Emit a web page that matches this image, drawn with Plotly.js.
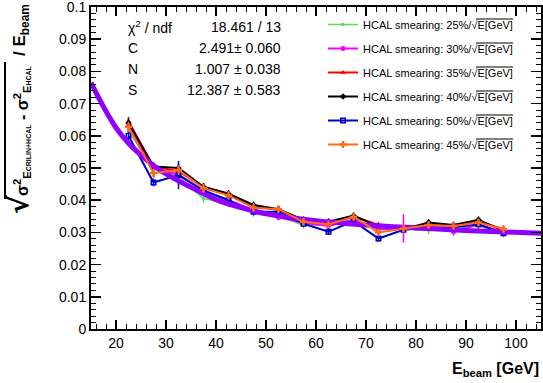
<!DOCTYPE html>
<html>
<head>
<meta charset="utf-8">
<script src="https://cdn.plot.ly/plotly-3.0.1.min.js"></script>
<style>html,body{margin:0;padding:0;background:#fff}#chart{width:543px;height:383px}</style>
</head>
<body>
<div id="chart"></div>
<script>
// ---- data ----
var energies = [22.5, 27.5, 32.5, 37.5, 42.5, 47.5, 52.5, 57.5, 62.5, 67.5, 72.5, 77.5, 82.5, 87.5, 92.5, 97.5];

var seriesNames = [
  "HCAL smearing: 25%/√E[GeV]",
  "HCAL smearing: 30%/√E[GeV]",
  "HCAL smearing: 35%/√E[GeV]",
  "HCAL smearing: 40%/√E[GeV]",
  "HCAL smearing: 50%/√E[GeV]",
  "HCAL smearing: 45%/√E[GeV]"
];

var res25 = [0.0615, 0.0500, 0.0475, 0.0405, 0.0390, 0.0360, 0.0350, 0.0322, 0.0323, 0.0340, 0.0310, 0.0310, 0.0307, 0.0310, 0.0320, 0.0300];
var err25 = [0.0012, 0.0012, 0.0015, 0.0013, 0.0012, 0.0011, 0.0011, 0.0010, 0.0010, 0.0010, 0.0010, 0.0010, 0.0012, 0.0010, 0.0010, 0.0010];

var res30 = [0.0630, 0.0500, 0.0480, 0.0430, 0.0400, 0.0370, 0.0347, 0.0330, 0.0320, 0.0340, 0.0310, 0.0312, 0.0318, 0.0302, 0.0325, 0.0300];
var err30 = [0.0013, 0.0012, 0.0013, 0.0012, 0.0011, 0.0011, 0.0010, 0.0010, 0.0010, 0.0010, 0.0010, 0.0044, 0.0010, 0.0012, 0.0010, 0.0010];

var res35 = [0.0645, 0.0505, 0.0490, 0.0440, 0.0420, 0.0380, 0.0370, 0.0335, 0.0330, 0.0350, 0.0323, 0.0312, 0.0325, 0.0320, 0.0335, 0.0310];
var err35 = [0.0014, 0.0012, 0.0013, 0.0012, 0.0011, 0.0011, 0.0010, 0.0010, 0.0010, 0.0010, 0.0010, 0.0010, 0.0010, 0.0010, 0.0010, 0.0010];

var res40 = [0.0640, 0.0505, 0.0500, 0.0442, 0.0420, 0.0385, 0.0372, 0.0339, 0.0333, 0.0352, 0.0318, 0.0310, 0.0331, 0.0323, 0.0339, 0.0304];
var err40 = [0.0014, 0.0012, 0.0013, 0.0012, 0.0011, 0.0011, 0.0010, 0.0010, 0.0010, 0.0010, 0.0010, 0.0010, 0.0010, 0.0010, 0.0010, 0.0010];

var res50 = [0.0600, 0.0455, 0.0478, 0.0430, 0.0400, 0.0364, 0.0364, 0.0327, 0.0302, 0.0335, 0.0281, 0.0308, 0.0315, 0.0316, 0.0325, 0.0297];
var err50 = [0.0013, 0.0012, 0.0044, 0.0012, 0.0011, 0.0011, 0.0010, 0.0010, 0.0010, 0.0010, 0.0010, 0.0010, 0.0010, 0.0010, 0.0010, 0.0010];

var res45 = [0.0628, 0.0484, 0.0494, 0.0437, 0.0415, 0.0377, 0.0372, 0.0333, 0.0325, 0.0348, 0.0300, 0.0312, 0.0323, 0.0320, 0.0331, 0.0310];
var err45 = [0.0016, 0.0015, 0.0015, 0.0014, 0.0013, 0.0013, 0.0012, 0.0012, 0.0012, 0.0012, 0.0012, 0.0012, 0.0012, 0.0012, 0.0012, 0.0012];

// fit curve
var fitE   = [15, 17.5, 20, 22.5, 25, 27.5, 30, 35, 40, 45, 50, 60, 70, 80, 90, 105];
var fitVal = [0.0765, 0.0690, 0.0625, 0.0577, 0.0540, 0.0508, 0.0482, 0.0440, 0.0402, 0.0377, 0.0358, 0.0336, 0.0323, 0.0314, 0.0306, 0.0297];

var yTickVals = [0, 0.01, 0.02, 0.03, 0.04, 0.05, 0.06, 0.07, 0.08, 0.09, 0.1];
var yTickText = ["0", "0.01", "0.02", "0.03", "0.04", "0.05", "0.06", "0.07", "0.08", "0.09", "0.1"];

var statLabels = ["χ<sup>2</sup> / ndf", "C", "N", "S"];
var statValues = ["18.461 / 13", "2.491± 0.060", "1.007 ± 0.038", "12.387 ± 0.583"];

var xTitle = "<b>E<sub>beam</sub> [GeV]</b>";
var yTitleRoot = "<b>√</b>";
var yTitleBody = "<b>σ<sup>2</sup><sub>E<span style='font-size:7px'>CRILIN+HCAL</span></sub> - σ<sup>2</sup><sub>E<span style='font-size:7px'>HCAL</span></sub></b>";
var yTitleTail = "<b>/ E<sub>beam</sub></b>";

// ---- styles ----
var styles = [
  {c: "#5cd65c", sym: "circle", size: 3.5, w: 1.5},
  {c: "#ff00ff", sym: "circle", size: 5, w: 2},
  {c: "#ff0000", sym: "triangle-up", size: 5, w: 2},
  {c: "#000000", sym: "diamond", size: 5, w: 2},
  {c: "#0000cc", sym: "square-open", size: 4.5, w: 2},
  {c: "#ff6a1a", sym: "cross", size: 6, w: 2}
];
var allRes = [res25, res30, res35, res40, res50, res45];
var allErr = [err25, err30, err35, err40, err50, err45];

// plot area in pixels
var L = 91, R = 541, T = 7, B = 329;
function px(x){ return (x - L) / (R - L); }
function py(y){ return (B - y) / (B - T); }

var traces = [];
for (var i = 0; i < allRes.length; i++) {
  var s = styles[i];
  var tr = {
    x: energies, y: allRes[i], type: "scatter", mode: "lines+markers",
    name: seriesNames[i], legendgroup: "g" + i,
    line: {color: s.c, width: s.w},
    marker: {color: s.c, symbol: s.sym, size: s.size, line: {color: s.c, width: i === 4 ? 1.5 : 0}},
    error_y: {type: "data", array: allErr[i], visible: true, color: s.c, thickness: 1.5, width: 0}
  };
  if (i === 5) {
    traces.push({x: fitE, y: fitVal, type: "scatter", mode: "lines", showlegend: false,
      line: {color: "#9000ff", width: 5, shape: "spline"}, hoverinfo: "skip"});
  }
  traces.push(tr);
}

var fontF = "Liberation Sans, Arial";
var annotations = [];
var statRows = [27, 48, 69, 90];
for (var k = 0; k < statLabels.length; k++) {
  annotations.push({xref: "paper", yref: "paper", x: px(126), y: py(statRows[k]), xanchor: "left", yanchor: "middle",
    text: statLabels[k], showarrow: false, font: {family: fontF, size: 14, color: "#000"}});
  annotations.push({xref: "paper", yref: "paper", x: px(283), y: py(statRows[k]), xanchor: "right", yanchor: "middle",
    text: statValues[k], showarrow: false, font: {family: fontF, size: 14, color: "#000"}});
}
annotations.push({xref: "paper", yref: "paper", x: 1, y: py(369), xanchor: "right", yanchor: "middle",
  text: xTitle, showarrow: false, font: {family: fontF, size: 16, color: "#000"}});
annotations.push({xref: "paper", yref: "paper", x: px(21), y: py(30), xanchor: "center", yanchor: "middle", textangle: -90,
  text: yTitleTail, showarrow: false, font: {family: fontF, size: 17, color: "#000"}});
annotations.push({xref: "paper", yref: "paper", x: px(22), y: py(131), xanchor: "center", yanchor: "middle", textangle: -90,
  text: yTitleBody, showarrow: false, font: {family: fontF, size: 16, color: "#000"}});
annotations.push({xref: "paper", yref: "paper", x: px(19), y: py(205), xanchor: "center", yanchor: "middle", textangle: -90,
  text: yTitleRoot, showarrow: false, font: {family: "DejaVu Sans", size: 28, color: "#000"}});

// sqrt overlines
var shapes = [];
shapes.push({type: "line", xref: "paper", yref: "paper", x0: px(5), x1: px(5), y0: py(62), y1: py(199),
  line: {color: "#000", width: 2}});
var legRows = [25, 49, 73, 97, 121, 145];
for (var r = 0; r < legRows.length; r++) {
  shapes.push({type: "line", xref: "paper", yref: "paper", x0: px(476), x1: px(513), y0: py(legRows[r] - 6), y1: py(legRows[r] - 6),
    line: {color: "#000", width: 1}});
}

var axisCommon = {
  showgrid: false, zeroline: false, showline: true, linecolor: "#000", linewidth: 2,
  mirror: "allticks", ticks: "inside", tickcolor: "#000", tickwidth: 1.5, ticklabeloverflow: "allow",
  tickfont: {family: fontF, size: 14, color: "#000"}
};

var layout = {
  width: 543, height: 383,
  margin: {l: L, r: 543 - R, t: T, b: 383 - B},
  paper_bgcolor: "#fff", plot_bgcolor: "#fff",
  showlegend: true,
  legend: {x: px(323), y: py(10), xanchor: "left", yanchor: "top", bgcolor: "rgba(0,0,0,0)",
    font: {family: fontF, size: 11, color: "#000"}, tracegroupgap: 5, itemwidth: 30},
  xaxis: Object.assign({}, axisCommon, {range: [15, 105], tickmode: "linear", tick0: 0, dtick: 10, ticklen: 9,
    minor: {tickmode: "linear", tick0: 0, dtick: 2, ticklen: 5, ticks: "inside", tickcolor: "#000", tickwidth: 1}}),
  yaxis: Object.assign({}, axisCommon, {range: [0, 0.1], tickmode: "array", tickvals: yTickVals, ticktext: yTickText, ticklen: 10,
    minor: {tickmode: "linear", tick0: 0, dtick: 0.002, ticklen: 5, ticks: "inside", tickcolor: "#000", tickwidth: 1}}),
  annotations: annotations,
  shapes: shapes
};

Plotly.newPlot("chart", traces, layout, {staticPlot: true, displayModeBar: false});
</script>
</body>
</html>
